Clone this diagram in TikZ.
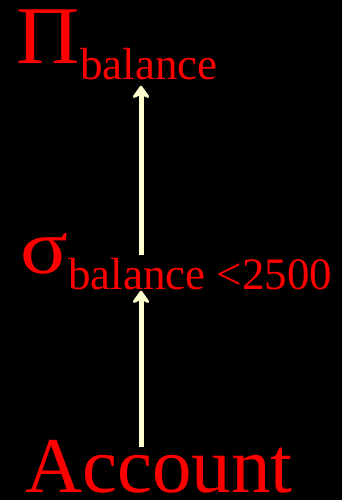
\documentclass[tikz,border=0pt]{standalone}
\usepackage{fontspec}
\setmainfont{Liberation Serif}
\usetikzlibrary{arrows.meta}
\definecolor{cream}{RGB}{255,255,208}
\definecolor{lbl}{RGB}{255,0,0}
\tikzset{
  lab/.style={inner sep=0pt, anchor=base west, text=lbl},
  arr/.style={draw=cream, line width=5pt, -{Stealth[round, length=15pt, width=21pt, inset=5pt]}}
}
\begin{document}
\begin{tikzpicture}[x=1pt,y=-1pt]
\fill[black] (0,0) rectangle (342,500);
\useasboundingbox (0,0) rectangle (342,500);
\node[lab] (pi) at (16,64) {\fontsize{82}{82}\selectfont\scalebox{1.07}[1]{Π}};
\node[lab] (pisub) at (80,80) {\fontsize{45}{45}\selectfont balance};
\node[lab] (sigma) at (20,273) {\fontsize{78}{78}\selectfont\scalebox{1.14}[1]{σ}};
\node[lab] (sigsub) at (68,289) {\fontsize{45}{45}\selectfont balance <2500};
\node[lab] (acc) at (25,492) {\fontsize{79}{79}\selectfont Account};
\coordinate (axis) at (141,0);
\draw[arr] ([yshift=-7pt]acc.north -| axis) -- ([yshift=-1pt]sigsub.south -| axis);
\draw[arr] ([yshift=3pt]sigsub.north -| axis) -- ([yshift=-5pt]pisub.south -| axis);
\end{tikzpicture}
\end{document}
